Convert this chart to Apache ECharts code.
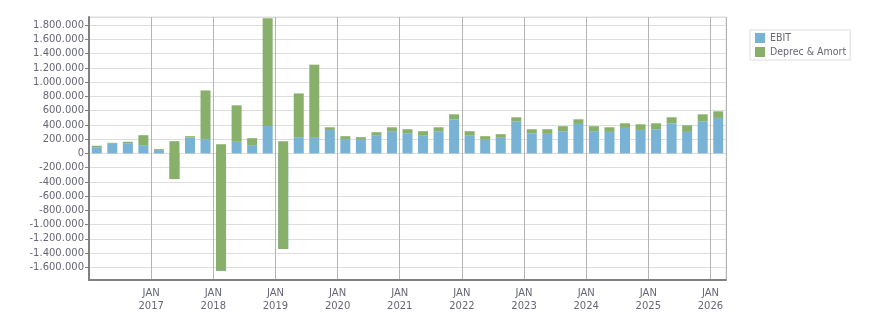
<!DOCTYPE html>
<html>
<head>
<meta charset="utf-8">
<script src="https://cdn.jsdelivr.net/npm/echarts@6/dist/echarts.min.js"></script>
<style>
  html, body { margin: 0; padding: 0; background: #fff; }
  .chart { width: 876px; height: 313px; }
</style>
</head>
<body>
<div class="chart"></div>
<script>
// quarters, first month of each
let quarters = [
  '2016-01', '2016-04', '2016-07', '2016-10',
  '2017-01', '2017-04', '2017-07', '2017-10',
  '2018-01', '2018-04', '2018-07', '2018-10',
  '2019-01', '2019-04', '2019-07', '2019-10',
  '2020-01', '2020-04', '2020-07', '2020-10',
  '2021-01', '2021-04', '2021-07', '2021-10',
  '2022-01', '2022-04', '2022-07', '2022-10',
  '2023-01', '2023-04', '2023-07', '2023-10',
  '2024-01', '2024-04', '2024-07', '2024-10',
  '2025-01', '2025-04', '2025-07', '2025-10',
  '2026-01'
]
let ebit = [
  88000, 135000, 144000, 116000,
  47000, -360000, 223000, 200000,
  -1646000, 163000, 116000, 386000,
  -1342000, 228000, 219000, 330000,
  200000, 191000, 256000, 312000,
  284000, 256000, 312000, 479000,
  256000, 191000, 219000, 451000,
  284000, 274000, 312000, 414000,
  312000, 302000, 358000, 330000,
  340000, 423000, 302000, 451000,
  498000
]
let deprecAmort = [
  19000, 14000, 19000, 140000,
  13000, 532000, 19000, 684000,
  1776000, 512000, 98000, 1512000,
  1514000, 614000, 1027000, 37000,
  42000, 37000, 42000, 55000,
  56000, 56000, 55000, 70000,
  56000, 51000, 51000, 56000,
  56000, 66000, 70000, 65000,
  70000, 65000, 65000, 79000,
  83000, 84000, 93000, 98000,
  93000
]
let months = { '01': 'JAN', '04': 'APR', '07': 'JUL', '10': 'OCT' }

let font = 'DejaVu Sans'
let textColor = '#666677'

// 1.800.000 style
function fmt(v) {
  let s = Math.abs(v).toString().replace(/\B(?=(\d{3})+(?!\d))/g, '.')
  return (v < 0 ? '-' : '') + s
}
// year start quarters (skip the first one)
function isYearStart(i) {
  return i > 0 && quarters[i].slice(5) == '01'
}

let myChart = echarts.init(document.querySelector('.chart'))
let option = {
  animation: false,
  color: ['#78b3d5', '#89b06b'],
  textStyle: { fontFamily: font },
  grid: {
    left: 89,
    right: 150,
    top: 17,
    bottom: 33,
    show: true,
    borderColor: '#dddddd',
    borderWidth: 1
  },
  legend: {
    orient: 'vertical',
    left: 750,
    top: 30,
    padding: [2, 4, 2, 5],
    itemGap: 2,
    itemWidth: 10,
    itemHeight: 10,
    icon: 'rect',
    borderColor: '#dddddd',
    borderWidth: 1,
    textStyle: {
      color: textColor,
      fontSize: 10.5,
      fontFamily: 'DejaVu Sans Condensed, DejaVu Sans',
      lineHeight: 12
    },
    data: ['EBIT', 'Deprec & Amort']
  },
  xAxis: {
    type: 'category',
    data: quarters,
    boundaryGap: true,
    axisLine: { onZero: false, lineStyle: { color: '#808080', width: 2 } },
    axisTick: { interval: 0, length: 3, lineStyle: { color: '#808080' } },
    splitLine: {
      show: true,
      interval: function (i) { return isYearStart(i) },
      lineStyle: { color: '#b4b4b4', width: 1 }
    },
    axisLabel: {
      interval: function (i) { return isYearStart(i) },
      color: textColor,
      fontSize: 10,
      fontFamily: font,
      lineHeight: 13,
      margin: 7,
      align: 'center',
      padding: [0, 15.5, 0, 0], // move label onto the boundary line
      formatter: function (v) {
        return months[v.slice(5)] + '\n' + v.slice(0, 4)
      }
    }
  },
  yAxis: {
    type: 'value',
    min: -1777000,
    max: 1915000,
    minInterval: 200000,
    maxInterval: 200000,
    splitNumber: 18,
    axisLine: { show: true, lineStyle: { color: '#808080', width: 2 } },
    axisTick: { show: true, length: 4, lineStyle: { color: '#808080' } },
    splitLine: { lineStyle: { color: '#dddddd', width: 1 } },
    axisLabel: {
      showMinLabel: false,
      showMaxLabel: false,
      color: textColor,
      fontSize: 10,
      fontFamily: font,
      margin: 5,
      formatter: fmt
    }
  },
  series: [{
      name: 'EBIT',
      type: 'bar',
      stack: 'total',
      stackStrategy: 'all',
      barWidth: 10,
      data: ebit
    },
    {
      name: 'Deprec & Amort',
      type: 'bar',
      stack: 'total',
      stackStrategy: 'all',
      barWidth: 10,
      data: deprecAmort
    }
  ]
}
myChart.setOption(option)
</script>
</body>
</html>
